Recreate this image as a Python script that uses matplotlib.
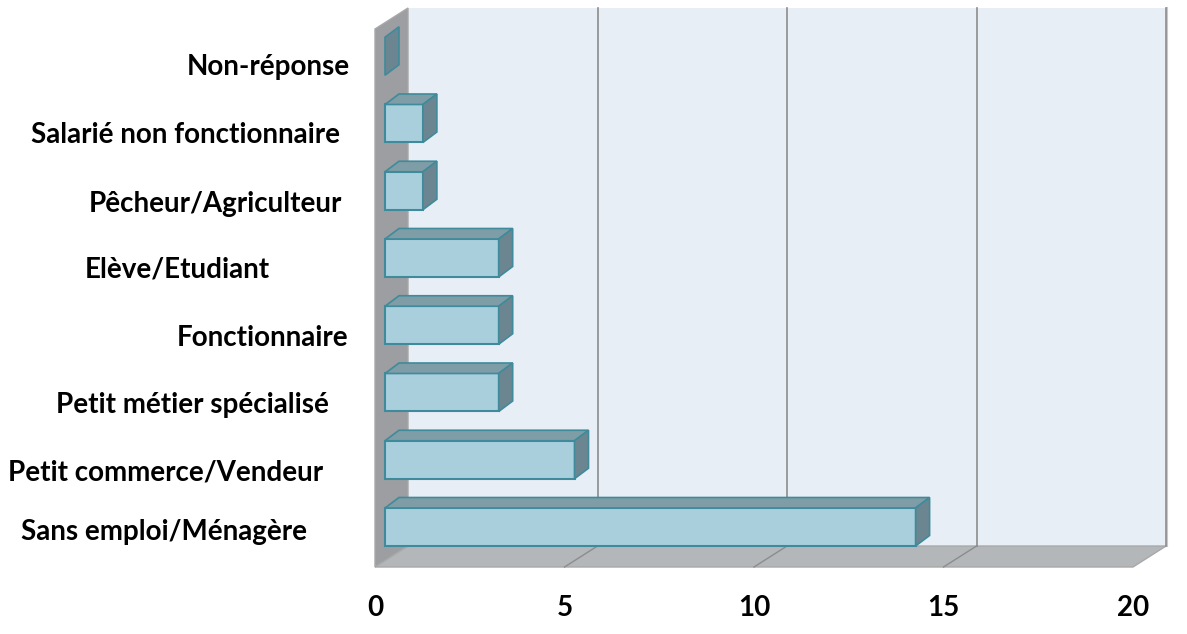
import matplotlib
matplotlib.use("Agg")
import matplotlib.pyplot as plt
from matplotlib.patches import Polygon

plt.rcParams['font.family'] = ['Lato', 'DejaVu Sans']

# ==================== DATA ====================
categories = ['Sans emploi/Ménagère', 'Petit commerce/Vendeur',
              'Petit métier spécialisé', 'Fonctionnaire', 'Elève/Etudiant',
              'Pêcheur/Agriculteur', 'Salarié non fonctionnaire', 'Non-réponse']
values = [14, 5, 3, 3, 3, 1, 1, 0]
xticks = [0, 5, 10, 15, 20]

# label placement (data units, front plane)
label_x = [-5.57, -5.52, -4.83, -2.96, -5.22, -4.20, -5.01, -2.82]
label_y = [-0.10, 0.78, 1.79, 2.79, 3.80, 4.78, 5.81, 6.82]

# ==================== STYLE ====================
WALL_DX, WALL_DY = 0.871, 0.312      # depth of the box
BAR_X0, BAR_Y0 = 0.264, 0.095        # bar front face offset
BAR_DX, BAR_DY = 0.369, 0.156        # bar depth
BAR_H = 0.565

back_col = '#e8eef6'
side_col = '#9c9ea1'
floor_col = '#b4b7ba'
grid_col = '#8c8c8c'
front_col = '#a9cfdd'
top_col = '#7f9da6'
rside_col = '#6b8690'
edge_col = '#3f8b9b'

fig = plt.figure(figsize=(11.87, 6.34), dpi=100)
ax = fig.add_axes([375/1187, 67/634, 758/1187, 538/634])
ax.set_xlim(0, 20)
ax.set_ylim(-0.5, 7.5)
ax.patch.set_visible(False)
for s in ax.spines.values():
    s.set_visible(False)

ymin, ymax = -0.5, 7.5

def poly(pts, fc, ec='none', lw=0, z=1):
    ax.add_patch(Polygon(pts, closed=True, facecolor=fc, edgecolor=ec,
                         linewidth=lw, zorder=z, clip_on=False,
                         joinstyle='miter'))

# back wall
poly([(WALL_DX, ymin + WALL_DY), (20 + WALL_DX, ymin + WALL_DY),
      (20 + WALL_DX, ymax + WALL_DY), (WALL_DX, ymax + WALL_DY)], back_col, z=1)
# side wall
poly([(0, ymin), (WALL_DX, ymin + WALL_DY), (WALL_DX, ymax + WALL_DY), (0, ymax)],
     side_col, ec='#a8a8a8', lw=1, z=2)
# floor
poly([(0, ymin), (20, ymin), (20 + WALL_DX, ymin + WALL_DY), (WALL_DX, ymin + WALL_DY)],
     floor_col, ec='#a8a8a8', lw=1, z=2)

# gridlines on back wall and floor
for v in xticks[1:]:
    ax.plot([v + WALL_DX, v + WALL_DX], [ymin + WALL_DY, ymax + WALL_DY],
            color=grid_col, lw=1.2, zorder=3, clip_on=False)
    if v < 20:
        ax.plot([v, v + WALL_DX], [ymin, ymin + WALL_DY],
                color=grid_col, lw=1.0, zorder=3, clip_on=False)
ax.plot([20 + WALL_DX + 0.03] * 2, [ymin + WALL_DY, ymax + WALL_DY],
        color='#c8c8c8', lw=1.5, zorder=2, clip_on=False)

# ==================== BARS ====================
for i in range(len(values) - 1, -1, -1):
    v = values[i]
    x0 = BAR_X0
    x1 = BAR_X0 + v
    bot = i + BAR_Y0 - BAR_H / 2
    top = i + BAR_Y0 + BAR_H / 2
    if v > 0:
        poly([(x0, bot), (x1, bot), (x1, top), (x0, top)], front_col,
             ec=edge_col, lw=1.5, z=5)
        poly([(x0, top), (x1, top), (x1 + BAR_DX, top + BAR_DY), (x0 + BAR_DX, top + BAR_DY)],
             top_col, ec=edge_col, lw=1.2, z=5)
    poly([(x1, bot), (x1 + BAR_DX, bot + BAR_DY), (x1 + BAR_DX, top + BAR_DY), (x1, top)],
         rside_col, ec=edge_col, lw=1.2, z=5)

# ==================== LABELS ====================
for lab, lx, ly in zip(categories, label_x, label_y):
    ax.text(lx, ly, lab, ha='center', va='baseline', fontsize=20,
            fontweight='bold', color='black', clip_on=False)

ax.set_yticks([])
ax.set_xticks(xticks)
ax.set_xticklabels([str(t) for t in xticks], fontsize=20, fontweight='bold')
ax.tick_params(axis='x', length=0, pad=20)

fig.savefig('out.png', dpi=100, facecolor='white')
